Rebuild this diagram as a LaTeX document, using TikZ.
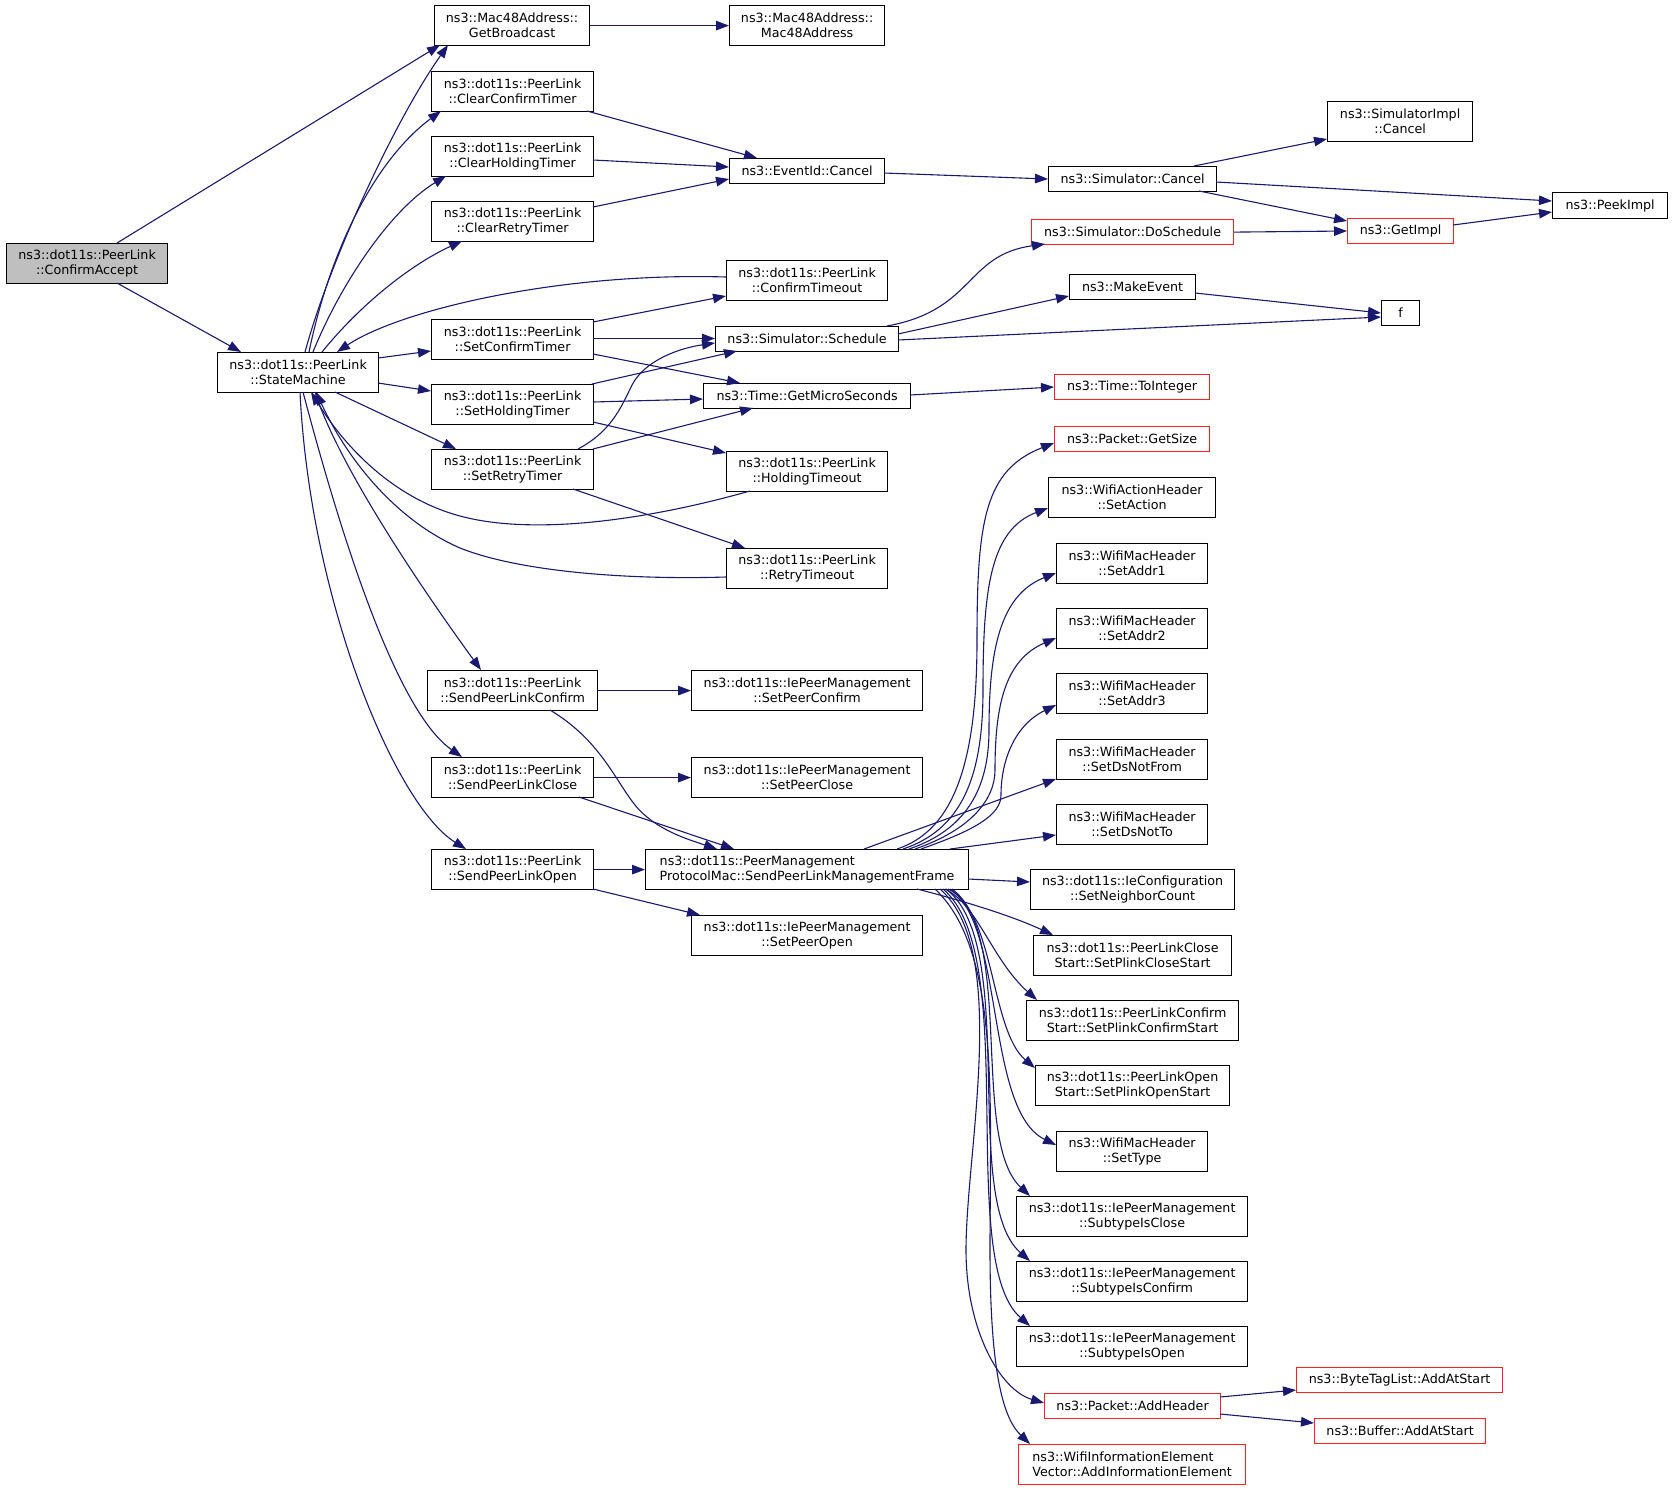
\documentclass[tikz,border=0pt]{standalone}
\usepackage{fontspec}
\setmainfont{DejaVu Sans}
\usetikzlibrary{arrows.meta,calc}
\definecolor{edgec}{HTML}{191970}
\definecolor{boxred}{HTML}{FF2020}
\definecolor{boxgray}{HTML}{BFBFBF}
\begin{document}
\begin{tikzpicture}[x=1pt,y=-1pt,
  box/.style={draw=black, line width=1.2pt, fill=white, inner sep=0pt, anchor=north west,
    align=center, font=\fontsize{12.7pt}{15pt}\selectfont, text=black},
  redbox/.style={box, draw=boxred},
  graybox/.style={box, fill=boxgray},
  e/.style={draw=edgec, line width=1.1pt, -{Triangle[length=13pt,width=9.5pt]}},
]
\useasboundingbox (0,0) rectangle (1672,1489);
% ---------- nodes ----------
\node[graybox, minimum width=161pt, minimum height=40pt] (CA) at (6,243) {ns3::dot11s::PeerLink\\::ConfirmAccept};
\node[box, minimum width=161pt, minimum height=40pt] (SM) at (217,352) {ns3::dot11s::PeerLink\\::StateMachine};
\node[box, minimum width=155pt, minimum height=40pt] (GB) at (434,5) {ns3::Mac48Address::\\GetBroadcast};
\node[box, minimum width=155pt, minimum height=40pt] (MA) at (729,5) {ns3::Mac48Address::\\Mac48Address};
\node[box, minimum width=162pt, minimum height=40pt] (CCT) at (431,71) {ns3::dot11s::PeerLink\\::ClearConfirmTimer};
\node[box, minimum width=162pt, minimum height=40pt] (CHT) at (431,136) {ns3::dot11s::PeerLink\\::ClearHoldingTimer};
\node[box, minimum width=162pt, minimum height=40pt] (CRT) at (431,201) {ns3::dot11s::PeerLink\\::ClearRetryTimer};
\node[box, minimum width=155pt, minimum height=25pt] (EC) at (729,158) {ns3::EventId::Cancel};
\node[box, minimum width=168pt, minimum height=25pt] (SC) at (1048,166) {ns3::Simulator::Cancel};
\node[box, minimum width=145pt, minimum height=40pt] (SIMC) at (1327,101) {ns3::SimulatorImpl\\::Cancel};
\node[box, minimum width=115pt, minimum height=26pt] (PK) at (1552,192) {ns3::PeekImpl};
\node[redbox, minimum width=202pt, minimum height=25pt] (DS) at (1031,219) {ns3::Simulator::DoSchedule};
\node[redbox, minimum width=106pt, minimum height=25pt] (GI) at (1347,218) {ns3::GetImpl};
\node[box, minimum width=126pt, minimum height=25pt] (ME) at (1069,274) {ns3::MakeEvent};
\node[box, minimum width=38pt, minimum height=25pt] (F) at (1381,300) {f};
\node[box, minimum width=162pt, minimum height=40pt] (SCT) at (431,319) {ns3::dot11s::PeerLink\\::SetConfirmTimer};
\node[box, minimum width=162pt, minimum height=40pt] (SHT) at (431,384) {ns3::dot11s::PeerLink\\::SetHoldingTimer};
\node[box, minimum width=162pt, minimum height=40pt] (SRT) at (431,449) {ns3::dot11s::PeerLink\\::SetRetryTimer};
\node[box, minimum width=161pt, minimum height=40pt] (CT) at (726,260) {ns3::dot11s::PeerLink\\::ConfirmTimeout};
\node[box, minimum width=183pt, minimum height=25pt] (SS) at (715,326) {ns3::Simulator::Schedule};
\node[box, minimum width=207pt, minimum height=25pt] (GMS) at (703,383) {ns3::Time::GetMicroSeconds};
\node[box, minimum width=161pt, minimum height=40pt] (HT) at (726,451) {ns3::dot11s::PeerLink\\::HoldingTimeout};
\node[box, minimum width=161pt, minimum height=40pt] (RT) at (726,548) {ns3::dot11s::PeerLink\\::RetryTimeout};
\node[redbox, minimum width=155pt, minimum height=25pt] (TI) at (1054,374) {ns3::Time::ToInteger};
\node[box, minimum width=170pt, minimum height=40pt] (SPLC) at (427,670) {ns3::dot11s::PeerLink\\::SendPeerLinkConfirm};
\node[box, minimum width=231pt, minimum height=40pt] (SPC) at (691,670) {ns3::dot11s::IePeerManagement\\::SetPeerConfirm};
\node[box, minimum width=162pt, minimum height=40pt] (SPLCl) at (431,757) {ns3::dot11s::PeerLink\\::SendPeerLinkClose};
\node[box, minimum width=231pt, minimum height=40pt] (SPCl) at (691,757) {ns3::dot11s::IePeerManagement\\::SetPeerClose};
\node[box, minimum width=162pt, minimum height=40pt] (SPLO) at (431,849) {ns3::dot11s::PeerLink\\::SendPeerLinkOpen};
\node[box, minimum width=323pt, minimum height=40pt, align=left] (PMF) at (645,849) {ns3::dot11s::PeerManagement\\ProtocolMac::SendPeerLinkManagementFrame};
\node[box, minimum width=231pt, minimum height=40pt] (SPO) at (691,915) {ns3::dot11s::IePeerManagement\\::SetPeerOpen};
\node[redbox, minimum width=155pt, minimum height=25pt] (PGS) at (1054,426) {ns3::Packet::GetSize};
\node[box, minimum width=167pt, minimum height=40pt] (WAH) at (1048,477) {ns3::WifiActionHeader\\::SetAction};
\node[box, minimum width=151pt, minimum height=40pt] (SA1) at (1056,543) {ns3::WifiMacHeader\\::SetAddr1};
\node[box, minimum width=151pt, minimum height=40pt] (SA2) at (1056,608) {ns3::WifiMacHeader\\::SetAddr2};
\node[box, minimum width=151pt, minimum height=40pt] (SA3) at (1056,673) {ns3::WifiMacHeader\\::SetAddr3};
\node[box, minimum width=151pt, minimum height=40pt] (SDNF) at (1056,739) {ns3::WifiMacHeader\\::SetDsNotFrom};
\node[box, minimum width=151pt, minimum height=40pt] (SDNT) at (1056,804) {ns3::WifiMacHeader\\::SetDsNotTo};
\node[box, minimum width=204pt, minimum height=40pt] (SNC) at (1030,869) {ns3::dot11s::IeConfiguration\\::SetNeighborCount};
\node[box, minimum width=198pt, minimum height=40pt] (SPCS) at (1033,935) {ns3::dot11s::PeerLinkClose\\Start::SetPlinkCloseStart};
\node[box, minimum width=212pt, minimum height=40pt] (SPCfS) at (1026,1000) {ns3::dot11s::PeerLinkConfirm\\Start::SetPlinkConfirmStart};
\node[box, minimum width=194pt, minimum height=40pt] (SPOS) at (1035,1065) {ns3::dot11s::PeerLinkOpen\\Start::SetPlinkOpenStart};
\node[box, minimum width=151pt, minimum height=40pt] (ST) at (1056,1131) {ns3::WifiMacHeader\\::SetType};
\node[box, minimum width=231pt, minimum height=40pt] (SUC) at (1016,1196) {ns3::dot11s::IePeerManagement\\::SubtypeIsClose};
\node[box, minimum width=231pt, minimum height=40pt] (SUCf) at (1016,1261) {ns3::dot11s::IePeerManagement\\::SubtypeIsConfirm};
\node[box, minimum width=231pt, minimum height=40pt] (SUO) at (1016,1326) {ns3::dot11s::IePeerManagement\\::SubtypeIsOpen};
\node[redbox, minimum width=176pt, minimum height=25pt] (PAH) at (1044,1393) {ns3::Packet::AddHeader};
\node[redbox, minimum width=227pt, minimum height=40pt, align=left] (WIE) at (1018,1444) {ns3::WifiInformationElement\\Vector::AddInformationElement};
\node[redbox, minimum width=206pt, minimum height=25pt] (BTL) at (1296,1367) {ns3::ByteTagList::AddAtStart};
\node[redbox, minimum width=171pt, minimum height=25pt] (BAS) at (1314,1418) {ns3::Buffer::AddAtStart};
% ---------- edges ----------
\draw[e] ($(CA.north west)+(111,0)$) -- ($(GB.north west)+(6,40)$);
\draw[e] ($(CA.north west)+(111,40)$) -- ($(SM.north west)+(24,0)$);
\draw[e] ($(SM.north west)+(88,0)$) .. controls (330,260) and (395,120) .. ($(GB.north west)+(14,40)$);
\draw[e] ($(SM.north west)+(92,0)$) .. controls (330,250) and (375,160) .. ($(CCT.north west)+(10,40)$);
\draw[e] ($(SM.north west)+(96,0)$) .. controls (340,285) and (390,210) .. ($(CHT.north west)+(15,40)$);
\draw[e] ($(SM.north west)+(105,0)$) .. controls (360,305) and (410,265) .. ($(CRT.north west)+(31,40)$);
\draw[e] ($(CT.north west)+(0,17)$) .. controls (560,272) and (400,310) .. ($(SM.north west)+(120,0)$);
\draw[e] ($(SM.north west)+(161,6)$) -- ($(SCT.north west)+(0,32)$);
\draw[e] ($(SM.north west)+(161,31)$) -- ($(SHT.north west)+(0,7)$);
\draw[e] ($(SM.north west)+(118,40)$) -- ($(SRT.north west)+(25,0)$);
\draw[e] ($(SM.north west)+(98,40)$) .. controls (340,470) and (430,600) .. ($(SPLC.north west)+(54,0)$);
\draw[e] ($(SM.north west)+(86,40)$) .. controls (350,570) and (402,715) .. ($(SPLCl.north west)+(31,0)$);
\draw[e] ($(SM.north west)+(83,40)$) .. controls (310,600) and (395,805) .. ($(SPLO.north west)+(35,0)$);
\draw[e] ($(HT.north west)+(24,40)$) .. controls (640,522) and (530,535) .. (460,516)
   .. controls (400,500) and (350,455) .. ($(SM.north west)+(94,40)$);
\draw[e] ($(RT.north west)+(0,29)$) .. controls (630,580) and (520,572) .. (460,548)
   .. controls (400,522) and (350,465) .. ($(SM.north west)+(99,40)$);
\draw[e] (GB.east) -- (MA.west);
\draw[e] ($(CCT.north west)+(156,40)$) -- ($(EC.north west)+(28,0)$);
\draw[e] ($(CHT.north west)+(162,24)$) -- ($(EC.north west)+(0,9)$);
\draw[e] ($(CRT.north west)+(162,6)$) -- ($(EC.north west)+(0,21)$);
\draw[e] ($(EC.north west)+(155,15)$) -- ($(SC.north west)+(0,13)$);
\draw[e] ($(SC.north west)+(146,0)$) -- ($(SIMC.north west)+(0,38)$);
\draw[e] ($(SC.north west)+(168,16)$) -- ($(PK.north west)+(0,9)$);
\draw[e] ($(SC.north west)+(151,25)$) -- ($(GI.north west)+(0,3)$);
\draw[e] (DS.east) -- ($(GI.north west)+(0,13)$);
\draw[e] ($(GI.north west)+(106,7)$) -- ($(PK.north west)+(0,20)$);
\draw[e] ($(ME.north west)+(126,19)$) -- ($(F.north west)+(0,13)$);
\draw[e] ($(SS.north west)+(172,0)$) .. controls (975,310) and (965,255) .. ($(DS.north west)+(14,25)$);
\draw[e] ($(SS.north west)+(183,8)$) -- ($(ME.north west)+(0,22)$);
\draw[e] ($(SS.north west)+(183,14)$) -- ($(F.north west)+(0,17)$);
\draw[e] ($(GMS.north west)+(207,12)$) -- ($(TI.north west)+(0,13)$);
\draw[e] ($(SCT.north west)+(162,3)$) -- ($(CT.north west)+(0,36)$);
\draw[e] ($(SCT.north west)+(162,19.5)$) -- ($(SS.north west)+(0,12.5)$);
\draw[e] ($(SCT.north west)+(162,35)$) -- ($(GMS.north west)+(37,0)$);
\draw[e] ($(SHT.north west)+(161,0)$) -- ($(SS.north west)+(22,25)$);
\draw[e] ($(SHT.north west)+(162,18)$) -- ($(GMS.north west)+(0,16)$);
\draw[e] ($(SHT.north west)+(162,38)$) -- ($(HT.north west)+(0,2)$);
\draw[e] ($(SRT.north west)+(147,0)$) .. controls (610,432) and (620,410) .. (632,385)
   .. controls (645,360) and (680,348) .. ($(SS.north west)+(0,17)$);
\draw[e] ($(SRT.north west)+(162,0)$) -- ($(GMS.north west)+(50,25)$);
\draw[e] ($(SRT.north west)+(142,40)$) -- ($(RT.north west)+(19,0)$);
\draw[e] (SPLC.east) -- (SPC.west);
\draw[e] ($(SPLC.north west)+(123,40)$) .. controls (600,740) and (615,780) .. (635,805)
   .. controls (655,830) and (690,840) .. ($(PMF.north west)+(72,0)$);
\draw[e] (SPLCl.east) -- (SPCl.west);
\draw[e] ($(SPLCl.north west)+(148,40)$) -- ($(PMF.north west)+(89,0)$);
\draw[e] (SPLO.east) -- (PMF.west);
\draw[e] ($(SPLO.north west)+(162,40)$) -- ($(SPO.north west)+(9,0)$);
\draw[e] ($(PAH.north west)+(176,4)$) -- ($(BTL.north west)+(0,23)$);
\draw[e] ($(PAH.north west)+(176,21)$) -- ($(BAS.north west)+(0,5)$);
% fan upwards
\draw[e] ($(PMF.north west)+(252,0)$) .. controls (955,830) and (977,760) .. (977,640)
   .. controls (977,520) and (985,470) .. ($(PGS.north west)+(0,17)$);
\draw[e] ($(PMF.north west)+(258,0)$) .. controls (960,830) and (983,780) .. (983,690)
   .. controls (983,590) and (990,530) .. ($(WAH.north west)+(0,31)$);
\draw[e] ($(PMF.north west)+(264,0)$) .. controls (965,830) and (989,790) .. (989,730)
   .. controls (989,650) and (1000,595) .. ($(SA1.north west)+(0,30)$);
\draw[e] ($(PMF.north west)+(270,0)$) .. controls (970,830) and (995,800) .. (995,770)
   .. controls (995,705) and (1005,660) .. ($(SA2.north west)+(0,30)$);
\draw[e] ($(PMF.north west)+(276,0)$) .. controls (975,830) and (1001,815) .. (1001,795)
   .. controls (1001,760) and (1015,725) .. ($(SA3.north west)+(0,32)$);
\draw[e] ($(PMF.north west)+(219,0)$) -- ($(SDNF.north west)+(0,40)$);
\draw[e] ($(PMF.north west)+(305,0)$) -- ($(SDNT.north west)+(0,31)$);
\draw[e] ($(PMF.north west)+(323,30)$) -- ($(SNC.north west)+(0,13)$);
% fan downwards
\draw[e] ($(PMF.north west)+(272,40)$) .. controls (960,900) and (1010,915) .. ($(SPCS.north west)+(20,0)$);
\draw[e] ($(PMF.north west)+(300,40)$) .. controls (978,905) and (992,960) .. ($(SPCfS.north west)+(11,0)$);
\draw[e] ($(PMF.north west)+(303,40)$) .. controls (995,910) and (990,1030) .. ($(SPOS.north west)+(0,3)$);
\draw[e] ($(PMF.north west)+(305,40)$) .. controls (1005,925) and (985,1110) .. ($(ST.north west)+(0,14)$);
\draw[e] ($(PMF.north west)+(307,40)$) .. controls (1015,935) and (970,1140) .. ($(SUC.north west)+(14,0)$);
\draw[e] ($(PMF.north west)+(301,40)$) .. controls (1020,945) and (960,1200) .. ($(SUCf.north west)+(14,0)$);
\draw[e] ($(PMF.north west)+(298,40)$) .. controls (1022,955) and (955,1260) .. ($(SUO.north west)+(14,0)$);
\draw[e] ($(PMF.north west)+(295,40)$) .. controls (1010,950) and (966,1150) .. (966,1250)
   .. controls (966,1330) and (1000,1390) .. ($(PAH.north west)+(0,10)$);
\draw[e] ($(PMF.north west)+(290,40)$) .. controls (1000,950) and (990,1100) .. (990,1250)
   .. controls (990,1380) and (1005,1420) .. ($(WIE.north west)+(12,0)$);
\end{tikzpicture}
\end{document}
